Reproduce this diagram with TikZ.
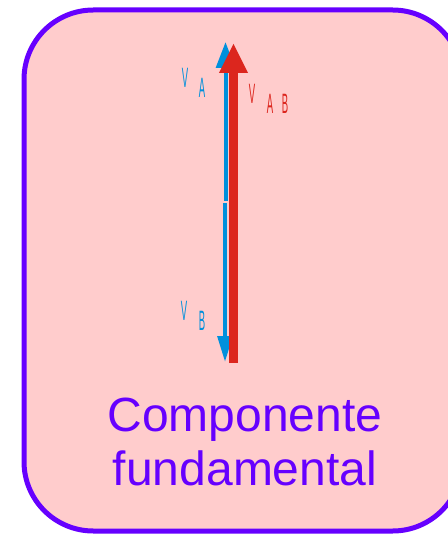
\documentclass[tikz,border=0pt]{standalone}
\usepackage{fontspec}
\setmainfont{Liberation Sans}
\usepackage{xcolor}
\definecolor{CajaMorado}{RGB}{102,0,255}
\definecolor{CajaRosa}{RGB}{255,204,204}
\definecolor{VecAzul}{RGB}{0,144,220}
\definecolor{VecRojo}{RGB}{220,38,30}
\usepackage{tikz}
\usetikzlibrary{positioning, arrows.meta}

\tikzset{
  letra/.style={inner sep=0pt, xscale=0.34, font=\fontsize{21}{21}\selectfont},
  vecazul/.style={VecAzul, line width=3pt, -{Triangle[length=19.5pt, width=14pt]}},
  vecrojo/.style={VecRojo, line width=6.75pt, -{Triangle[length=22.5pt, width=20pt]}}
}

\begin{document}
\begin{tikzpicture}[x=0.75pt, y=-0.75pt]
			\useasboundingbox (0,0) rectangle (448,538);
			% Caja
			\begin{scope}
			\clip (0,0) rectangle (448,538);
			\draw[CajaMorado, fill=CajaRosa, line width=3.75pt, rounded corners=52pt]
			  (24,10) rectangle (462,531);
			\end{scope}
			% Vectores
			\coordinate (oA) at (225.5,201);
			\coordinate (pA) at (225.5,42);
			\coordinate (oB) at (225,203);
			\coordinate (pB) at (225,362);
			\coordinate (oAB) at (233.5,363);
			\coordinate (pAB) at (233.5,43);
			\draw[vecazul] (oA) -- (pA);
			\draw[vecazul, -{Triangle[length=19.5pt, width=11pt]}] (oB) -- (pB);
			\draw[vecrojo] (oAB) -- (pAB);
			% Etiquetas
			\node[letra, text=VecAzul] (vaV) at (185,78) {V};
			\node[letra, text=VecAzul] (vaA) at (202,88) {A};
			\node[letra, text=VecAzul] (vbV) at (184,311) {V};
			\node[letra, text=VecAzul] (vbB) at (202,321) {B};
			\node[letra, text=VecRojo] (vabV) at (252,94) {V};
			\node[letra, text=VecRojo] (vabA) at (270,104) {A};
			\node[letra, text=VecRojo] (vabB) at (285,104) {B};
			% Texto
			\node[CajaMorado, align=center, font=\fontsize{36}{41}\selectfont] (titulo) at (245,442)
			  {Componente\\fundamental};
			\end{tikzpicture}
\end{document}
